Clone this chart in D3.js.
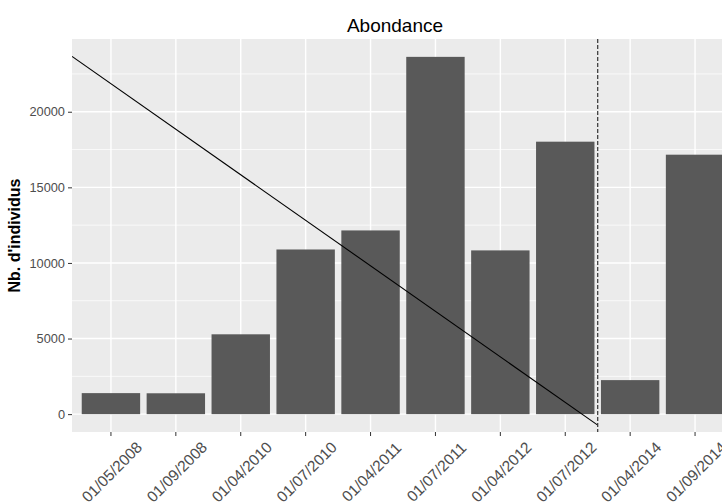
<!DOCTYPE html>
<html>
<head>
<meta charset="utf-8">
<script src="https://cdn.jsdelivr.net/npm/d3@7"></script>
<style>
  body { margin: 0; background: #fff; }
  svg { display: block; font-family: "Liberation Sans", Arial, sans-serif; }
</style>
</head>
<body>
<svg id="chart"></svg>
<script>
// dates d'echantillonnage
var dates = ["01/05/2008", "01/09/2008", "01/04/2010", "01/07/2010", "01/04/2011",
             "01/07/2011", "01/04/2012", "01/07/2012", "01/04/2014", "01/09/2014"];
// abondance (nb d'individus)
var abondance = [1390, 1380, 5280, 10890, 12150, 23630, 10830, 18020, 2250, 17160];
// ticks axe y
var yTicks = [0, 5000, 10000, 15000, 20000];
// droite de tendance (position sur l'axe discret, valeur)
var trendPos = [0.4, 8.5];
var trendVal = [23660, -730];
// coupure (entre 01/07/2012 et 01/04/2014)
var cutPos = 8.5;

var width = 722;
var height = 504;
var margin = { top: 39, left: 72, bottom: 72 };
var panelRight = 734; // le panneau deborde de l'image

var svg = d3.select("#chart")
    .attr("width", width)
    .attr("height", height);

var y0 = height - margin.bottom; // 432
var ymax = d3.max(abondance);
var pad = ymax * 0.05;

var x = d3.scaleBand()
    .domain(dates)
    .range([margin.left, panelRight])
    .paddingInner(0.1)
    .paddingOuter(0.15);

// position continue (1 = premiere categorie)
var xPos = d3.scaleLinear()
    .domain([0.4, dates.length + 0.6])
    .range([margin.left, panelRight]);

var y = d3.scaleLinear()
    .domain([-pad, ymax + pad])
    .range([y0, margin.top]);

svg.append("clipPath").attr("id", "clip")
    .append("rect")
    .attr("x", margin.left).attr("y", margin.top)
    .attr("width", panelRight - margin.left).attr("height", y0 - margin.top);

// fond du panneau
svg.append("rect")
    .attr("x", margin.left)
    .attr("y", margin.top)
    .attr("width", panelRight - margin.left)
    .attr("height", y0 - margin.top)
    .style("fill", "#ebebeb");

var grid = svg.append("g");

// grille mineure
var minor = [];
for (var i = 0; i < yTicks.length; i++) {
    minor.push(yTicks[i] + 2500);
}
grid.selectAll(".minor")
    .data(minor.filter(function (d) { return y(d) > margin.top; }))
    .enter().append("line")
    .attr("x1", margin.left).attr("x2", panelRight)
    .attr("y1", function (d) { return y(d); })
    .attr("y2", function (d) { return y(d); })
    .style("stroke", "#fff")
    .style("stroke-width", 0.7);

grid.selectAll(".major")
    .data(yTicks)
    .enter().append("line")
    .attr("x1", margin.left).attr("x2", panelRight)
    .attr("y1", function (d) { return y(d); })
    .attr("y2", function (d) { return y(d); })
    .style("stroke", "#fff")
    .style("stroke-width", 1.4);

grid.selectAll(".vmajor")
    .data(dates)
    .enter().append("line")
    .attr("x1", function (d) { return x(d) + x.bandwidth() / 2; })
    .attr("x2", function (d) { return x(d) + x.bandwidth() / 2; })
    .attr("y1", margin.top).attr("y2", y0)
    .style("stroke", "#fff")
    .style("stroke-width", 1.4);

var panel = svg.append("g").attr("clip-path", "url(#clip)");

// barres
panel.selectAll(".bar")
    .data(abondance)
    .enter().append("rect")
    .attr("class", "bar")
    .attr("x", function (d, i) { return x(dates[i]); })
    .attr("width", x.bandwidth())
    .attr("y", function (d) { return y(d); })
    .attr("height", function (d) { return y(0) - y(d); })
    .style("fill", "#595959");

// droite
panel.append("line")
    .attr("x1", xPos(trendPos[0]))
    .attr("y1", y(trendVal[0]))
    .attr("x2", xPos(trendPos[1]))
    .attr("y2", y(trendVal[1]))
    .style("stroke", "#000")
    .style("stroke-width", 1.1);

// ligne verticale pointillee
panel.append("line")
    .attr("x1", xPos(cutPos)).attr("x2", xPos(cutPos))
    .attr("y1", margin.top).attr("y2", y0)
    .style("stroke", "#333")
    .style("stroke-width", 1.2)
    .style("stroke-dasharray", "4,2");

// axe y
var yAxis = svg.append("g")
    .attr("transform", "translate(" + margin.left + ",0)")
    .call(d3.axisLeft(y).tickValues(yTicks).tickSize(4).tickPadding(3).tickFormat(d3.format("d")));
yAxis.select(".domain").remove();
yAxis.selectAll("line").style("stroke", "#333");
yAxis.selectAll("text")
    .style("fill", "#4d4d4d")
    .style("font-size", "12.8px")
    .style("font-family", "Liberation Sans, Arial, sans-serif");

// axe x
var xAxis = svg.append("g")
    .attr("transform", "translate(0," + y0 + ")")
    .call(d3.axisBottom(x).tickSize(4).tickPadding(0));
xAxis.select(".domain").remove();
xAxis.selectAll("line").style("stroke", "#333");
xAxis.selectAll("text")
    .attr("y", 0)
    .attr("dy", "0.35em")
    .attr("transform", "translate(1,40) rotate(-45)")
    .style("text-anchor", "middle")
    .style("fill", "#4d4d4d")
    .style("font-size", "15.5px")
    .style("font-family", "Liberation Sans, Arial, sans-serif");

// titre de l'axe y
svg.append("text")
    .attr("transform", "translate(20," + ((margin.top + y0) / 2) + ") rotate(-90)")
    .style("text-anchor", "middle")
    .style("font-weight", "bold")
    .style("font-size", "16px")
    .style("fill", "#000")
    .text("Nb. d'individus");

// titre
svg.append("text")
    .attr("x", 395)
    .attr("y", 32)
    .style("text-anchor", "middle")
    .style("font-size", "19px")
    .style("fill", "#000")
    .text("Abondance");
</script>
</body>
</html>
